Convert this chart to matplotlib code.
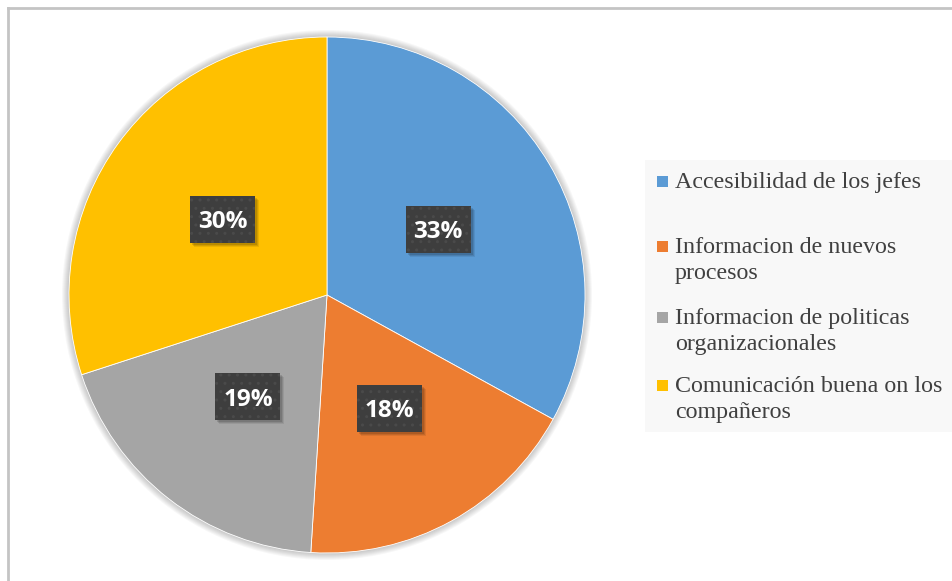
import matplotlib
matplotlib.use("Agg")
import matplotlib.pyplot as plt
from matplotlib.patches import Rectangle, Circle
from matplotlib.lines import Line2D


# data
labels = [
    "Accesibilidad de los jefes",
    "Informacion de nuevos\nprocesos",
    "Informacion de politicas\norganizacionales",
    "Comunicación buena on los\ncompañeros",
]
values = [33, 18, 19, 30]
colors = ["#5B9BD5", "#ED7D31", "#A5A5A5", "#FFC000"]

W, H = 953, 581

fig = plt.figure(figsize=(W / 100, H / 100), dpi=100)
fig.patch.set_facecolor("white")

# axes in pixel units, y up
ax = fig.add_axes([0, 0, 1, 1])

# chart frame (top and left edges visible)
ax.add_line(Line2D([8, 952], [H - 8, H - 8], color="#c4c4c4", lw=2))
ax.add_line(Line2D([8, 8], [0, H - 8], color="#c4c4c4", lw=2))

cx, cy, R = 327, H - 295, 258

# soft shadow around the pie
for k in range(1, 8):
    ax.add_patch(Circle((cx, cy), R + k, color="black", alpha=0.03, lw=0, zorder=1))

wedges, texts, autotexts = ax.pie(
    values,
    colors=colors,
    startangle=90,
    counterclock=False,
    center=(cx, cy),
    radius=R,
    autopct="%1.0f%%",
    pctdistance=0.5,
    frame=True,
    wedgeprops=dict(linewidth=0.6, edgecolor="white"),
    textprops=dict(color="white", fontsize=17.5, fontweight="bold",
                   family="Open Sans"),
)
for w in wedges:
    w.set_zorder(2)

# dark patterned label boxes with a soft drop shadow
bw, bh = 65, 47
for t in autotexts:
    x, y = t.get_position()
    t.set_zorder(6)
    t.set_va("center_baseline")
    for d, a in [(4, 0.08), (3, 0.1), (2, 0.12)]:
        ax.add_patch(Rectangle((x - bw / 2 + d, y - bh / 2 - d), bw, bh,
                               facecolor="black", alpha=a, lw=0, zorder=4))
    ax.add_patch(Rectangle((x - bw / 2, y - bh / 2), bw, bh,
                           facecolor="#3e3e3e", edgecolor="#4a4a4a",
                           hatch="..", linewidth=0, zorder=5))

ax.set_xlim(0, W)
ax.set_ylim(0, H)
ax.set_aspect("equal")
ax.axis("off")

# legend panel
ax.add_patch(Rectangle((645, H - 432), 308, 272, facecolor="#f8f8f8",
                       edgecolor="none", zorder=3))
entry_tops = [181, 246, 317, 385]
for lab, col, yc in zip(labels, colors, entry_tops):
    ax.add_patch(Rectangle((657, H - yc - 5.5), 11, 11, facecolor=col,
                           edgecolor="none", zorder=4))
    ax.text(675, H - yc + 9, lab, ha="left", va="top", fontsize=17.3,
            family="Liberation Serif", color="#404040", linespacing=1.33,
            zorder=4)

fig.savefig("out.png", dpi=100)
